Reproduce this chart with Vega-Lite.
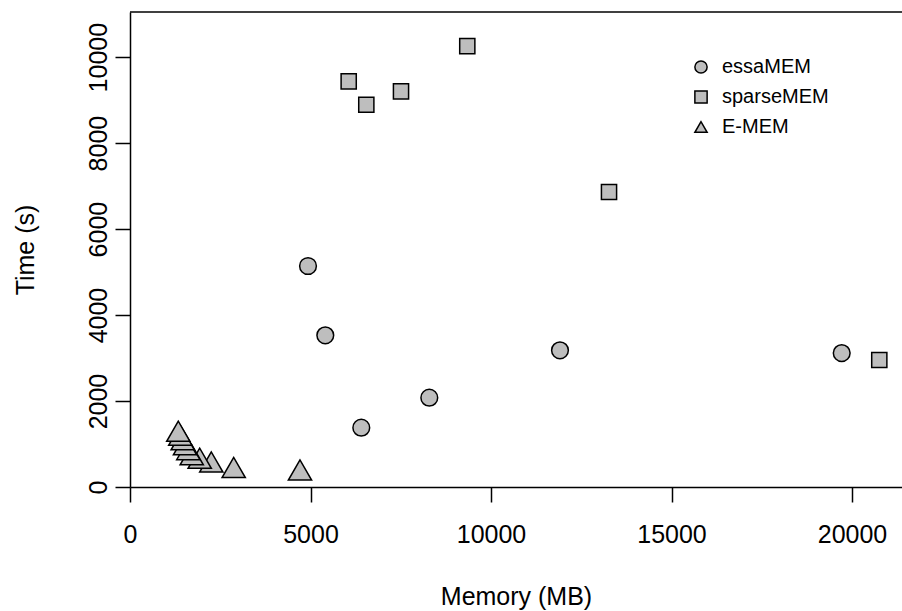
{
  "$schema": "https://vega.github.io/schema/vega-lite/v6.json",
  "width": 772,
  "height": 475,
  "autosize": {"type": "none"},
  "padding": {"left": 130, "top": 12, "right": 0, "bottom": 124},
  "background": "white",
  "config": {
    "view": {"stroke": null},
    "axis": {
      "grid": false,
      "domainColor": "black",
      "domainWidth": 1.5,
      "tickColor": "black",
      "tickWidth": 1.5,
      "tickSize": 15,
      "labelFont": "Liberation Sans",
      "labelFontSize": 25,
      "labelColor": "black",
      "titleFont": "Liberation Sans",
      "titleFontSize": 25,
      "titleFontWeight": "normal",
      "titleColor": "black",
      "labelFlush": false,
      "labelOverlap": false,
      "format": "d"
    },
    "legend": {
      "padding": 0
    }
  },
  "data": {
    "values": [
      {"series": "essaMEM", "memory": 4931, "time": 5141},
      {"series": "essaMEM", "memory": 5410, "time": 3529},
      {"series": "essaMEM", "memory": 8291, "time": 2077},
      {"series": "essaMEM", "memory": 6407, "time": 1379},
      {"series": "essaMEM", "memory": 11911, "time": 3180},
      {"series": "essaMEM", "memory": 19715, "time": 3117},
      {"series": "sparseMEM", "memory": 6058, "time": 9437},
      {"series": "sparseMEM", "memory": 6546, "time": 8893},
      {"series": "sparseMEM", "memory": 7507, "time": 9205},
      {"series": "sparseMEM", "memory": 9343, "time": 10258},
      {"series": "sparseMEM", "memory": 13269, "time": 6862},
      {"series": "sparseMEM", "memory": 20756, "time": 2954},
      {"series": "E-MEM", "memory": 4709, "time": 395},
      {"series": "E-MEM", "memory": 2873, "time": 454},
      {"series": "E-MEM", "memory": 2252, "time": 582},
      {"series": "E-MEM", "memory": 1931, "time": 668},
      {"series": "E-MEM", "memory": 1710, "time": 751},
      {"series": "E-MEM", "memory": 1615, "time": 868},
      {"series": "E-MEM", "memory": 1524, "time": 984},
      {"series": "E-MEM", "memory": 1460, "time": 1100},
      {"series": "E-MEM", "memory": 1393, "time": 1203},
      {"series": "E-MEM", "memory": 1338, "time": 1296}
    ]
  },
  "layer": [
    {
      "data": {"values": [{"top": 11050}]},
      "mark": {"type": "rule", "color": "black", "strokeWidth": 1.5},
      "encoding": {
        "y": {
          "field": "top", "type": "quantitative",
          "axis": {
            "title": "Time (s)",
            "values": [0, 2000, 4000, 6000, 8000, 10000],
            "labelAngle": 270,
            "labelAlign": "center",
            "labelBaseline": "alphabetic",
            "labelPadding": 9,
            "titleX": -105,
            "titleY": 237.5,
            "titleAngle": 270,
            "titleAlign": "center",
            "titleBaseline": "middle"
          }
        }
      }
    },
    {
      "mark": {"type": "point", "filled": true, "color": "#bebebe", "stroke": "black", "strokeWidth": 1.5, "opacity": 1},
      "encoding": {
        "x": {
          "field": "memory", "type": "quantitative",
          "scale": {"domain": [0, 21385], "nice": false, "zero": false},
          "axis": {
            "title": "Memory (MB)",
            "values": [0, 5000, 10000, 15000, 20000],
            "labelPadding": 20,
            "labelBaseline": "top",
            "titleY": 117,
            "titleBaseline": "alphabetic"
          }
        },
        "y": {
          "field": "time", "type": "quantitative",
          "scale": {"domain": [0, 11050], "nice": false, "zero": false},
          "axis": {
            "title": "Time (s)",
            "values": [0, 2000, 4000, 6000, 8000, 10000],
            "labelAngle": 270,
            "labelAlign": "center",
            "labelBaseline": "alphabetic",
            "labelPadding": 9,
            "titleX": -105,
            "titleY": 237.5,
            "titleAngle": 270,
            "titleAlign": "center",
            "titleBaseline": "middle"
          }
        },
        "shape": {
          "field": "series", "type": "nominal",
          "scale": {"domain": ["essaMEM", "sparseMEM", "E-MEM"], "range": ["circle", "square", "triangle-up"]},
          "legend": {
            "title": null,
            "orient": "none",
            "legendX": 561,
            "legendY": 45,
            "labelFont": "Liberation Sans",
            "labelFontSize": 20,
            "labelColor": "black",
            "labelOffset": 11,
            "rowPadding": 10,
            "symbolSize": 150,
            "symbolStrokeWidth": 1.5
          }
        },
        "size": {
          "condition": [
            {"test": "datum.series === 'E-MEM'", "value": 540},
            {"test": "datum.series === 'sparseMEM'", "value": 230}
          ],
          "value": 280
        }
      }
    }
  ]
}
